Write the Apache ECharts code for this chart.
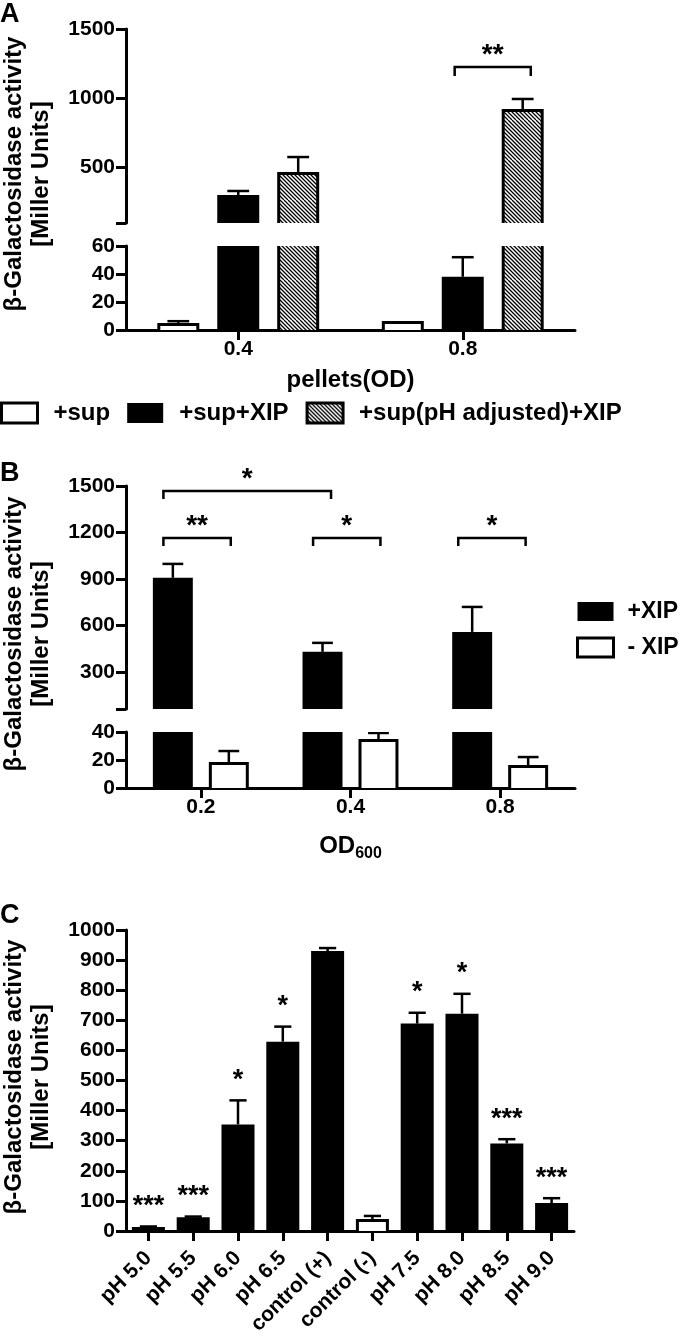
<!DOCTYPE html>
<html><head><meta charset="utf-8">
<script src="https://cdn.jsdelivr.net/npm/echarts@6/dist/echarts.min.js"></script>
<style>html,body{margin:0;padding:0;background:#fff}#c{width:680px;height:1338px}</style>
</head><body><div id="c"></div>
<script>
const FONT = '"Liberation Sans", Arial, Helvetica, sans-serif';

// ---------- Panel A data ----------
const catA = ['0.4', '0.8'];
const supA = [5, 6.5];
const supErrA = [1.3, 0];
const xipA = [302, 38];
const xipErrA = [29, 14];
const phA = [468, 923];
const phErrA = [108, 72];
const tickUpperA = [100, 500, 1000, 1500];
const labelUpperA = [500, 1000, 1500];
// brackets: [from (category units), to (category units), y value, label]
const bracketsA = [[0.964, 1.303, 1226, '**']];

// ---------- Panel B data ----------
const catB = ['0.2', '0.4', '0.8'];
const plusB = [907, 429, 558];
const plusErrB = [90, 58, 161];
const minusB = [18.6, 35, 16.4];
const minusErrB = [7.8, 4.3, 5.7];
const tickUpperB = [60, 300, 600, 900, 1200, 1500];
const labelUpperB = [300, 600, 900, 1200, 1500];
const bracketsB = [
  [-0.25, 0.87, 1468, '*'],
  [-0.25, 0.20, 1165, '**'],
  [0.75, 1.20, 1165, '*'],
  [1.72, 2.17, 1165, '*']
];

// ---------- Panel C data ----------
const catC = ['pH 5.0', 'pH 5.5', 'pH 6.0', 'pH 6.5', 'control (+)', 'control (-)', 'pH 7.5', 'pH 8.0', 'pH 8.5', 'pH 9.0'];
const valC = [13, 46, 354, 629, 930, 40, 689, 722, 291, 93];
const errC = [2, 2, 80, 50, 10, 10, 36, 66, 14, 16];
const sigC = ['***', '***', '*', '*', '', '', '*', '*', '***', '***'];
const negativeControl = 'control (-)';

// ---------- styles ----------
function hatchCanvas() {
  const s = 40, c = document.createElement('canvas');
  c.width = s; c.height = s;
  const g = c.getContext('2d');
  g.fillStyle = '#fff'; g.fillRect(0, 0, s, s);
  g.strokeStyle = '#000'; g.lineWidth = 1.3;
  g.beginPath();
  for (let k = -s; k <= 2 * s; k += 4) { g.moveTo(k, 0); g.lineTo(k + s, s); }
  g.stroke();
  return c;
}
const HATCH = { image: hatchCanvas(), repeat: 'repeat' };
const STY_BLACK = { fill: '#000' };
const STY_WHITE = { fill: '#fff', stroke: '#000', lineWidth: 3 };
const STY_HATCH = { fill: HATCH, stroke: '#000', lineWidth: 3 };

function makeBars(slot, nSlots, pitchFrac, widthFrac, styleFn) {
  return function (params, api) {
    const cat = api.value(0), v = api.value(1), e = api.value(2);
    const band = api.size([1, 0])[0];
    const top = api.coord([cat, v]);
    const base = api.coord([cat, 0]);
    const cx = top[0] + (slot - (nSlots - 1) / 2) * pitchFrac * band;
    const w = widthFrac * band;
    const st = styleFn(params.dataIndex);
    const inset = st.lineWidth ? st.lineWidth / 2 : 0;
    const children = [{
      type: 'rect',
      shape: { x: cx - w / 2 + inset, y: top[1] + inset, width: w - 2 * inset, height: base[1] - top[1] },
      style: st
    }];
    if (e > 0) {
      const et = api.coord([cat, v + e]);
      const cw = w * 0.52;
      children.push({ type: 'line', shape: { x1: cx, y1: top[1], x2: cx, y2: et[1] }, style: { stroke: '#000', lineWidth: 2.5 } });
      children.push({ type: 'line', shape: { x1: cx - cw / 2, y1: et[1], x2: cx + cw / 2, y2: et[1] }, style: { stroke: '#000', lineWidth: 2.5 } });
    }
    return { type: 'group', children };
  };
}

function makeBrackets(list, leg) {
  return function (params, api) {
    const b = list[params.dataIndex];
    const band = api.size([1, 0])[0];
    const c0 = api.coord([0, b[2]]);
    const x1 = c0[0] + b[0] * band, x2 = c0[0] + b[1] * band, y = c0[1];
    return {
      type: 'group', children: [
        { type: 'polyline', shape: { points: [[x1, y + leg], [x1, y], [x2, y], [x2, y + leg]] }, style: { stroke: '#000', lineWidth: 2.5, fill: null } },
        { type: 'text', x: (x1 + x2) / 2, y: y - 12, style: { text: b[3], font: 'bold 28px ' + FONT, fill: '#000', textAlign: 'center', textVerticalAlign: 'middle', align: 'center', verticalAlign: 'middle' } }
      ]
    };
  };
}

function starsRender(params, api) {
  const i = params.dataIndex;
  const p = api.coord([api.value(0), api.value(1) + api.value(2)]);
  if (!sigC[i]) return { type: 'group', children: [] };
  return { type: 'text', x: p[0], y: p[1] - 20, style: { text: sigC[i], font: 'bold 27px ' + FONT, fill: '#000', textAlign: 'center', textVerticalAlign: 'middle', align: 'center', verticalAlign: 'middle' } };
}

const rows = (vals, errs) => vals.map((v, i) => [i, v, errs[i]]);

const axisLine = { show: true, onZero: false, lineStyle: { color: '#000', width: 3 } };
const axisTick = { show: true, length: 10, lineStyle: { color: '#000', width: 3 } };
const axisLabel = { color: '#000', fontFamily: FONT, fontSize: 21, fontWeight: 'bold', margin: 11, formatter: v => String(v) };
const noSplit = { show: false };
const nameStyle = { color: '#000', fontFamily: FONT, fontSize: 24, fontWeight: 'bold' };

const grids = [
  { left: 126, top: 29, width: 449, height: 194 },   // A upper
  { left: 126, top: 246, width: 449, height: 84 },   // A lower
  { left: 126, top: 486, width: 449, height: 223 },  // B upper
  { left: 126, top: 732, width: 449, height: 56 },   // B lower
  { left: 126, top: 930, width: 448, height: 301 }   // C
].map(g => Object.assign({ outerBoundsMode: 'none', containLabel: false }, g));

const xHidden = (gi, data) => ({ type: 'category', gridIndex: gi, data, show: false });
const xShown = (gi, data, extra) => Object.assign({
  type: 'category', gridIndex: gi, data,
  axisLine, axisTick: Object.assign({}, axisTick, { alignWithLabel: true }),
  axisLabel: Object.assign({}, axisLabel, { margin: 9, interval: 0, formatter: null }),
  splitLine: noSplit
}, extra || {});

const xAxis = [
  xHidden(0, catA),
  xShown(1, catA, { name: 'pellets(OD)', nameLocation: 'middle', nameGap: 38, nameTextStyle: nameStyle }),
  xHidden(2, catB),
  xShown(3, catB, {
    name: '{m|OD}{s|600}', nameLocation: 'middle', nameGap: 46,
    nameTextStyle: Object.assign({}, nameStyle, {
      rich: {
        m: { fontFamily: FONT, fontSize: 24, fontWeight: 'bold', color: '#000', verticalAlign: 'top', lineHeight: 28 },
        s: { fontFamily: FONT, fontSize: 16, fontWeight: 'bold', color: '#000', verticalAlign: 'bottom', lineHeight: 28 }
      }
    })
  }),
  xShown(4, catC, { axisLabel: Object.assign({}, axisLabel, { formatter: null, fontSize: 21, margin: 24, interval: 0, rotate: 45 }) })
];

const yAxis = [
  { type: 'value', gridIndex: 0, min: 100, max: 1500, axisLine, splitLine: noSplit,
    axisTick: Object.assign({}, axisTick, { customValues: tickUpperA }),
    axisLabel: Object.assign({}, axisLabel, { customValues: labelUpperA }) },
  { type: 'value', gridIndex: 1, min: 0, max: 60, interval: 20, axisLine, axisTick, axisLabel, splitLine: noSplit },
  { type: 'value', gridIndex: 2, min: 60, max: 1500, axisLine, splitLine: noSplit,
    axisTick: Object.assign({}, axisTick, { customValues: tickUpperB }),
    axisLabel: Object.assign({}, axisLabel, { customValues: labelUpperB }) },
  { type: 'value', gridIndex: 3, min: 0, max: 40, interval: 20, axisLine, axisTick, axisLabel, splitLine: noSplit },
  { type: 'value', gridIndex: 4, min: 0, max: 1000, interval: 100, axisLine, axisTick, axisLabel, splitLine: noSplit }
];

function barSeries(name, gi, data, renderItem, color) {
  return { type: 'custom', name, xAxisIndex: gi, yAxisIndex: gi, data, renderItem, clip: true,
    encode: { x: 0, y: 1 }, itemStyle: { color }, z: 2 };
}

const series = [];
// Panel A (upper grid 0, lower grid 1)
[0, 1].forEach(gi => {
  series.push(barSeries('+sup', gi, rows(supA, supErrA), makeBars(0, 3, 0.267, 0.187, () => STY_WHITE), '#fff'));
  series.push(barSeries('+sup+XIP', gi, rows(xipA, xipErrA), makeBars(1, 3, 0.267, 0.187, () => STY_BLACK), '#000'));
  series.push(barSeries('+sup(pH adjusted)+XIP', gi, rows(phA, phErrA), makeBars(2, 3, 0.267, 0.187, () => STY_HATCH), HATCH));
});
series.push({ type: 'custom', name: 'bracketsA', xAxisIndex: 0, yAxisIndex: 0, clip: false,
  data: bracketsA.map(b => [0, b[2]]), encode: { x: 0, y: 1 }, renderItem: makeBrackets(bracketsA, 9), z: 3 });
// Panel B (upper grid 2, lower grid 3)
[2, 3].forEach(gi => {
  series.push(barSeries('+XIP', gi, rows(plusB, plusErrB), makeBars(0, 2, 0.374, 0.267, () => STY_BLACK), '#000'));
  series.push(barSeries('- XIP', gi, rows(minusB, minusErrB), makeBars(1, 2, 0.374, 0.267, () => STY_WHITE), '#fff'));
});
series.push({ type: 'custom', name: 'bracketsB', xAxisIndex: 2, yAxisIndex: 2, clip: false,
  data: bracketsB.map(b => [0, b[2]]), encode: { x: 0, y: 1 }, renderItem: makeBrackets(bracketsB, 8), z: 3 });
// Panel C
series.push(barSeries('pH', 4, rows(valC, errC),
  makeBars(0, 1, 1, 0.737, i => catC[i] === negativeControl ? STY_WHITE : STY_BLACK), '#000'));
series.push({ type: 'custom', name: 'sigC', xAxisIndex: 4, yAxisIndex: 4, clip: false,
  data: rows(valC, errC), encode: { x: 0, y: 1 }, renderItem: starsRender, z: 3 });

const legendText = { fontFamily: FONT, fontSize: 24, fontWeight: 'bold', color: '#000', padding: [0, 0, 0, 11] };
const legend = [
  { left: 0, top: 401, orient: 'horizontal', itemWidth: 36, itemHeight: 20, itemGap: 17, padding: 0,
    selectedMode: false, textStyle: legendText,
    data: [
      { name: '+sup', icon: 'rect', itemStyle: { color: '#fff', borderColor: '#000', borderWidth: 3 } },
      { name: '+sup+XIP', icon: 'rect', itemStyle: { color: '#000', borderColor: '#000', borderWidth: 0 } },
      { name: '+sup(pH adjusted)+XIP', icon: 'rect', itemStyle: { color: HATCH, borderColor: '#000', borderWidth: 3 } }
    ] },
  { left: 576, top: 600, orient: 'vertical', itemWidth: 36, itemHeight: 19, itemGap: 13, padding: 0,
    selectedMode: false, textStyle: Object.assign({}, legendText, { fontSize: 23, lineHeight: 19, padding: [0, 0, 0, 9] }),
    data: [
      { name: '+XIP', icon: 'rect', itemStyle: { color: '#000', borderColor: '#000', borderWidth: 0 } },
      { name: '- XIP', icon: 'rect', itemStyle: { color: '#fff', borderColor: '#000', borderWidth: 3 } }
    ] }
];

const titleText = 'β-Galactosidase activity\n[Miller Units]';
const yTitle = (y) => ({ type: 'text', x: 28, y, rotation: Math.PI / 2,
  style: { text: titleText, font: 'bold 24px ' + FONT, fill: '#000', lineHeight: 27,
    textAlign: 'center', textVerticalAlign: 'middle', align: 'center', verticalAlign: 'middle' } });
const letter = (t, top) => ({ type: 'text', left: 0, top, style: { text: t, font: 'bold 27px ' + FONT, fill: '#000' } });

const option = {
  animation: false,
  backgroundColor: '#fff',
  grid: grids, xAxis, yAxis, series, legend,
  graphic: [letter('A', 1), letter('B', 460), letter('C', 902), yTitle(174), yTitle(634), yTitle(1077)]
};

const chart = echarts.init(document.getElementById('c'), null, { renderer: 'canvas', width: 680, height: 1338 });
chart.setOption(option);
</script></body></html>
